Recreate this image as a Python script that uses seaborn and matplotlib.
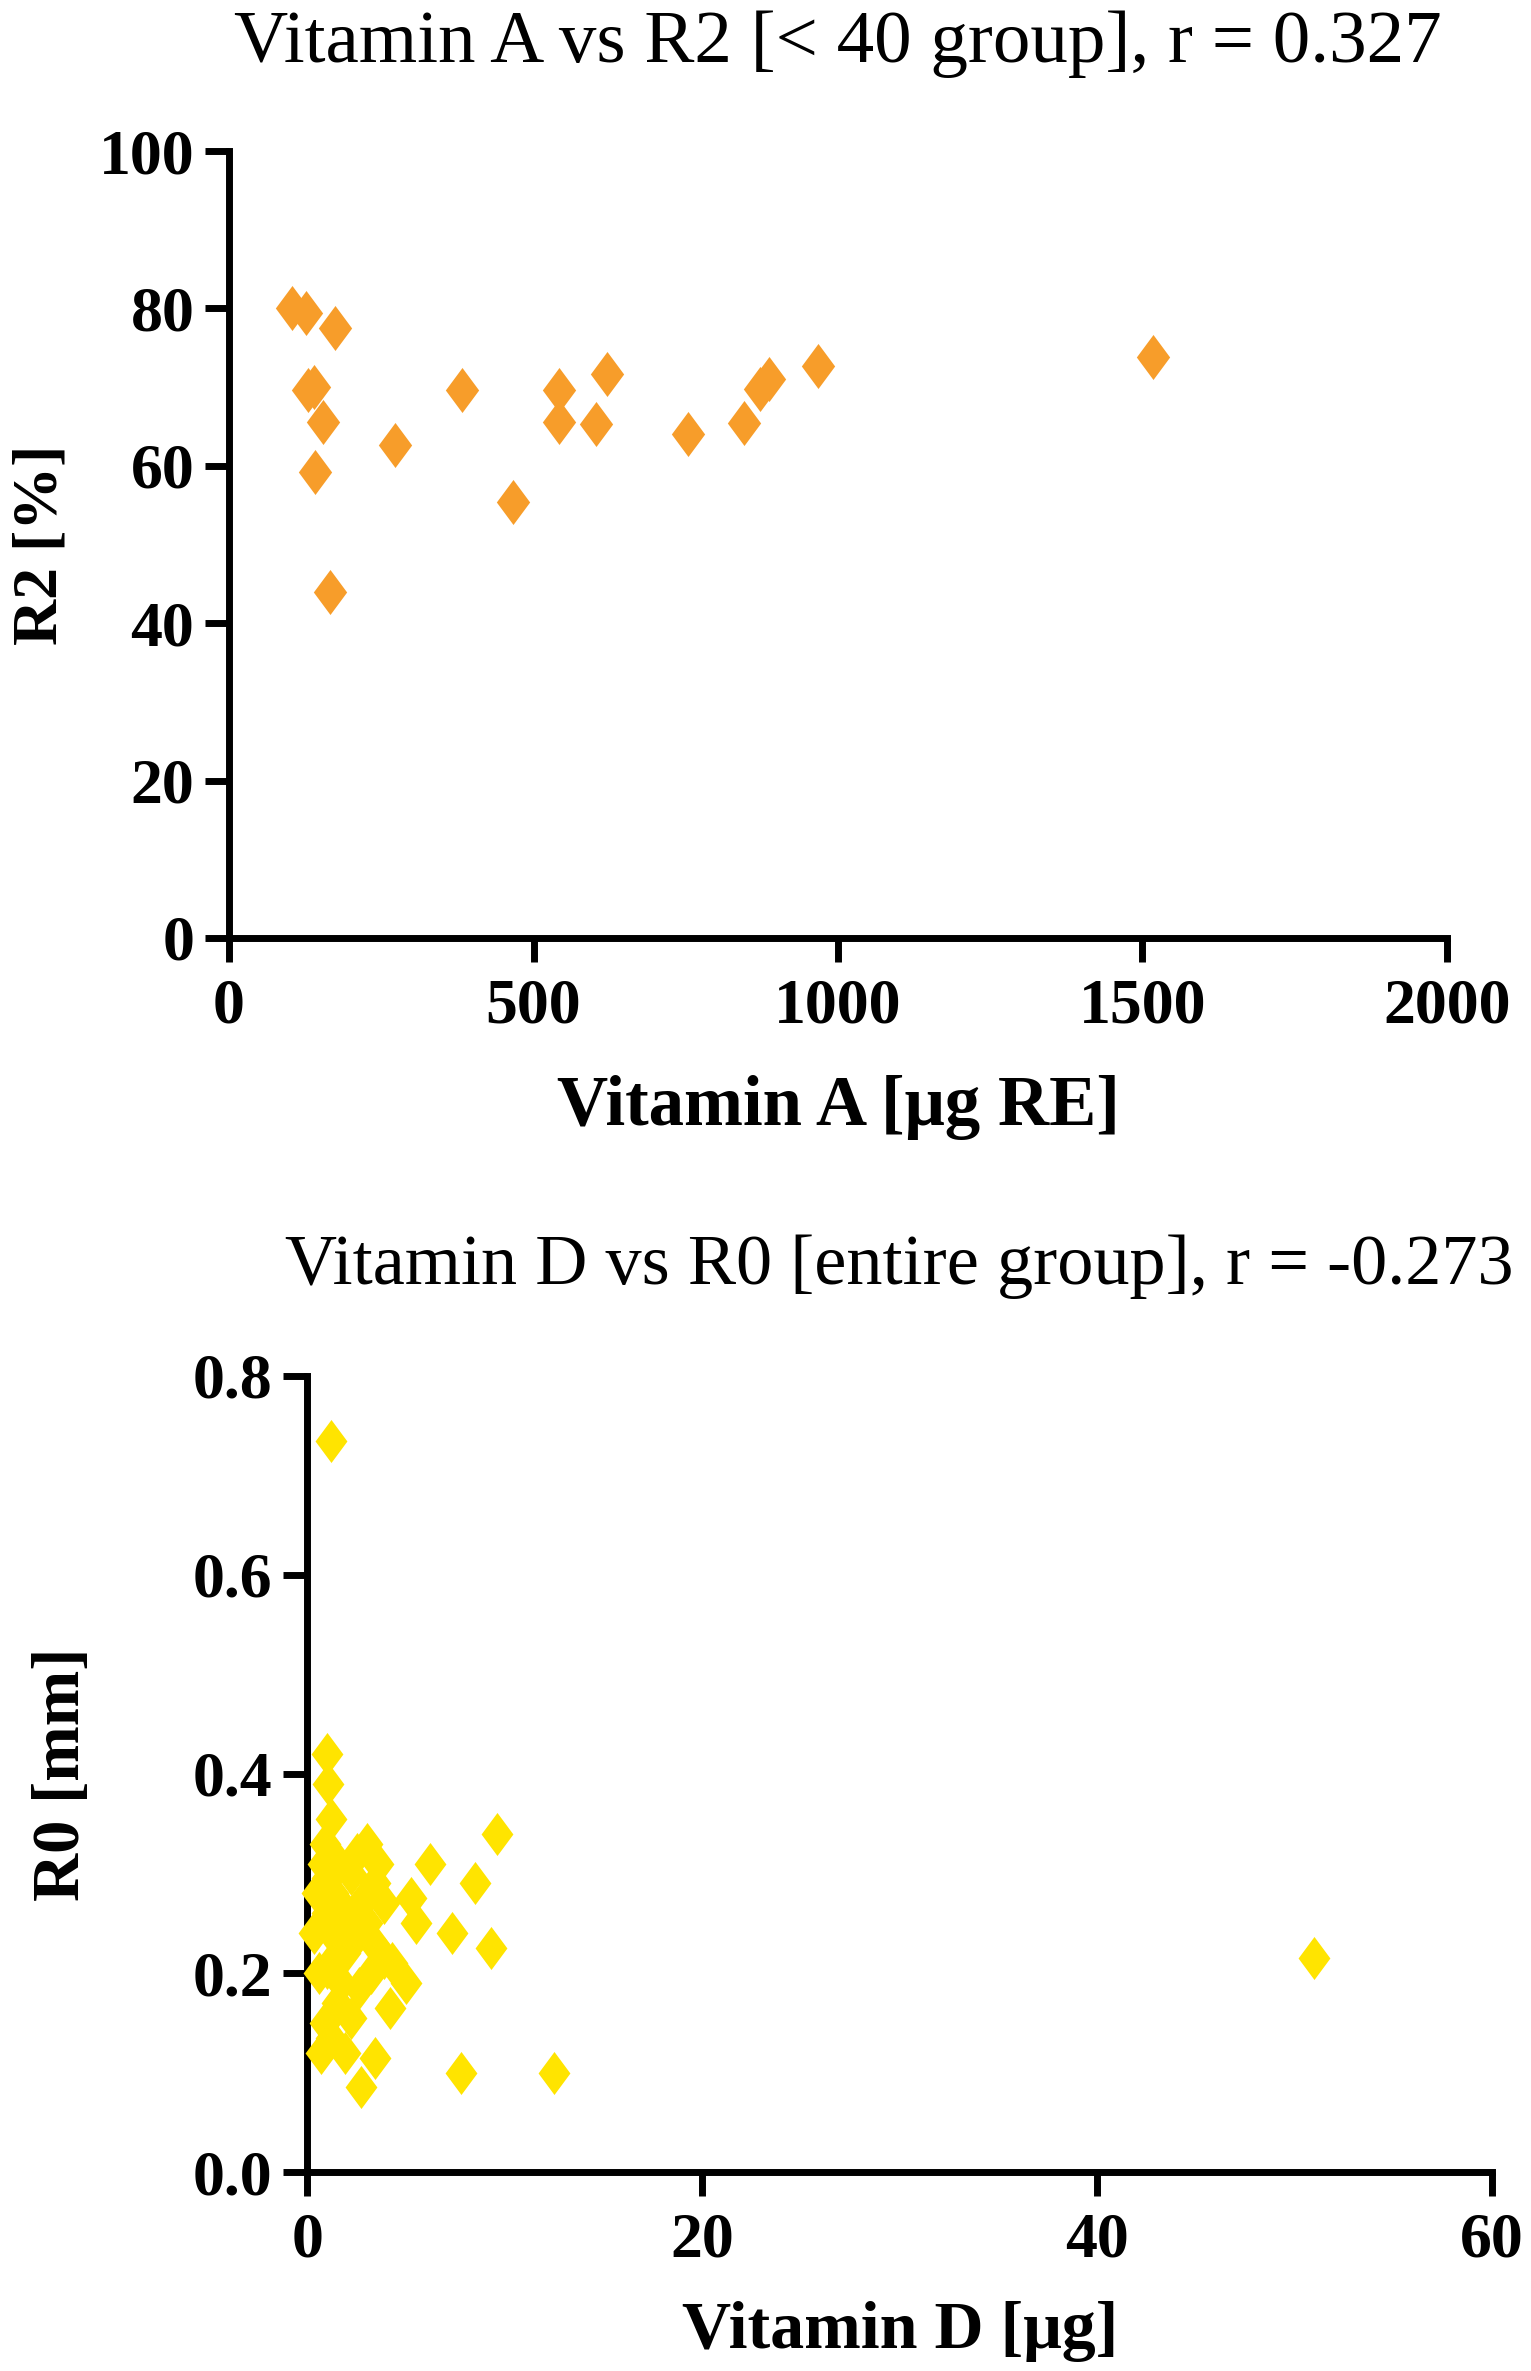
import numpy as np
import pandas as pd
import matplotlib
matplotlib.use("Agg")
import matplotlib.pyplot as plt
import seaborn as sns

# Vitamin A vs R2 [< 40 group]
vit_a = [104, 126, 174, 130, 139, 155, 141, 166, 272, 382, 467,
         542, 542, 620, 602, 753, 845, 872, 887, 967, 1517]
r2 = [80.0, 79.4, 77.5, 69.6, 70.0, 65.6, 59.2, 44.0, 62.6, 69.6, 55.4,
      69.6, 65.6, 71.7, 65.3, 64.0, 65.5, 69.8, 71.0, 72.7, 73.8]

# Vitamin D vs R0 [entire group]
vit_d = [1.2, 51.0, 1.0, 1.05, 1.2, 0.9, 3.0, 6.2, 9.6, 8.5, 5.25, 5.5, 7.3,
         9.3, 0.35, 3.9, 5.0, 4.2, 1.0, 1.5, 0.9, 2.2, 0.7, 1.9, 3.4, 2.7,
         7.8, 12.5, 3.2, 1.9, 1.0, 2.2, 3.4, 1.0, 2.7, 3.9, 1.6, 0.8, 2.5,
         3.6, 1.4, 2.6, 0.6, 1.3, 2.0, 3.0, 1.7, 2.6, 1.2, 3.5, 0.5, 4.3]
r0 = [0.735, 0.215, 0.42, 0.39, 0.355, 0.33, 0.33, 0.31, 0.34, 0.29, 0.275,
      0.25, 0.24, 0.225, 0.24, 0.215, 0.19, 0.165, 0.205, 0.17, 0.15, 0.155,
      0.12, 0.12, 0.115, 0.085, 0.10, 0.10, 0.20, 0.22, 0.295, 0.30, 0.29,
      0.26, 0.27, 0.27, 0.31, 0.31, 0.32, 0.31, 0.235, 0.24, 0.20, 0.28,
      0.26, 0.25, 0.19, 0.185, 0.135, 0.225, 0.28, 0.21]

top_title = "Vitamin A vs R2 [< 40 group], r = 0.327"
bottom_title = "Vitamin D vs R0 [entire group], r = -0.273"

sns.set_theme(style="ticks")
plt.rcParams["font.family"] = ["Liberation Serif", "DejaVu Serif"]
plt.rcParams["text.color"] = "black"
plt.rcParams["axes.labelcolor"] = "black"

diamond = [(0, 1), (0.74, 0), (0, -1), (-0.74, 0)]

fig = plt.figure(figsize=(15.31, 23.71), dpi=100)
ax1 = fig.add_axes([0.1496, 0.6044, 0.7955, 0.3319])
ax2 = fig.add_axes([0.2008, 0.0839, 0.7737, 0.3358])

df_a = pd.DataFrame({"x": vit_a, "y": r2})
df_d = pd.DataFrame({"x": vit_d, "y": r0})

sns.scatterplot(data=df_a, x="x", y="y", ax=ax1, marker=diamond, s=1050,
                color="#F79D2A", linewidth=0, clip_on=False, zorder=3)
sns.scatterplot(data=df_d, x="x", y="y", ax=ax2, marker=diamond, s=960,
                color="#FFE400", linewidth=0, clip_on=False, zorder=3)

ax1.set_xlim(0, 2000)
ax1.set_ylim(0, 100)
ax1.set_xticks([0, 500, 1000, 1500, 2000])
ax1.set_yticks([0, 20, 40, 60, 80, 100])
ax2.set_xlim(0, 60)
ax2.set_ylim(0, 0.8)
ax2.set_xticks([0, 20, 40, 60])
ax2.set_yticks([0.0, 0.2, 0.4, 0.6, 0.8])
ax2.set_yticklabels(["0.0", "0.2", "0.4", "0.6", "0.8"])

for ax in (ax1, ax2):
    sns.despine(ax=ax)
    for side in ("left", "bottom"):
        ax.spines[side].set_linewidth(5)
        ax.spines[side].set_color("black")
    ax.tick_params(axis="both", direction="out", length=17, width=5,
                   labelsize=46, colors="black", labelcolor="black")
    ax.tick_params(axis="x", pad=12)
    ax.tick_params(axis="y", pad=8)
    for lab in ax.get_xticklabels() + ax.get_yticklabels():
        lab.set_fontweight("bold")

ax1.set_xlabel("Vitamin A [μg RE]", fontsize=51, fontweight="bold", labelpad=28)
ax1.set_ylabel("R2 [%]", fontsize=46, fontweight="bold", labelpad=20)
ax2.set_xlabel("Vitamin D [μg]", fontsize=49, fontweight="bold", labelpad=22)
ax2.set_ylabel("R0 [mm]", fontsize=48, fontweight="bold", labelpad=72)

ax1.set_title(top_title, fontsize=54, pad=64)
ax2.set_title(bottom_title, fontsize=52, pad=66)

fig.savefig("out.png", dpi=100, facecolor="white")
